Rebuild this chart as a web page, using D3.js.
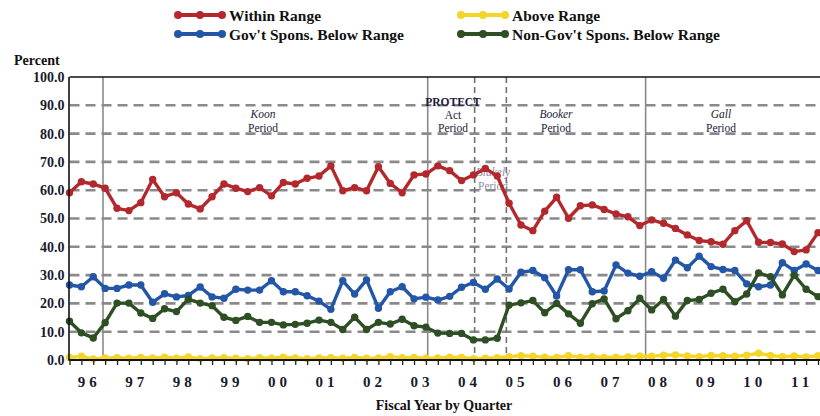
<!DOCTYPE html>
<html><head><meta charset="utf-8">
<script src="https://cdn.jsdelivr.net/npm/d3@7"></script>
<style>body{margin:0;background:#fff}svg{display:block}</style>
</head><body><svg id="c" width="820" height="416"></svg>
<script>
// ---------- DATA ----------
const years = ["96","97","98","99","00","01","02","03","04","05","06","07","08","09","10","11"];
const quarterNames = ["Q1","Q2","Q3","Q4"];
const categories = years.flatMap(y => quarterNames.map(q => "FY" + y + " " + q));

const withinRange = [59.1,63.0,62.2,60.7,53.6,52.8,55.6,63.8,57.7,59.1,
  55.1,53.4,57.7,62.2,60.7,59.5,60.9,58.0,62.7,62.2,
  64.2,65.0,68.6,59.8,60.9,59.8,68.3,62.4,59.1,65.4,
  65.7,68.6,66.9,63.4,65.4,67.7,65.0,55.4,47.7,45.7,
  52.6,57.5,50.1,54.5,54.8,53.2,51.6,50.6,47.5,49.5,
  48.3,46.5,44.2,42.2,41.8,40.9,45.7,49.2,41.6,41.5,
  41.0,38.3,38.9,45.0];
const aboveRange = [0.9,1.3,0.4,0.7,0.8,0.6,0.9,0.7,1.0,0.6,
  1.1,0.5,0.7,0.8,0.6,0.5,0.8,0.6,1.0,0.7,
  0.5,0.7,0.8,0.6,0.9,0.6,0.7,1.2,0.8,0.9,
  0.6,0.7,1.0,0.9,0.5,0.6,0.8,1.2,1.5,1.3,
  1.0,0.9,1.5,1.0,1.2,0.9,1.0,1.1,1.4,1.3,
  1.7,1.8,1.4,1.2,1.6,1.5,1.3,1.7,2.4,1.6,
  1.2,1.4,1.1,1.5];
const govBelow = [26.5,25.9,29.4,25.3,25.3,26.5,26.5,20.4,23.4,22.3,
  22.8,25.8,22.3,21.8,25.0,24.7,24.7,28.0,24.1,24.1,
  22.7,20.8,17.9,28.0,23.3,28.3,18.3,24.1,25.9,21.6,
  22.2,21.2,22.5,25.7,27.4,25.0,28.6,25.1,31.0,31.6,
  29.1,22.6,31.9,31.9,24.1,24.4,33.6,30.7,29.6,31.2,
  28.9,35.3,32.6,36.7,33.0,32.0,31.6,26.9,25.9,26.5,
  34.4,31.6,33.9,31.6];
const nonGovBelow = [13.7,9.6,7.8,13.2,20.1,20.1,16.6,14.7,18.1,17.1,
  21.5,20.1,19.2,15.1,14.0,15.4,13.3,13.3,12.4,12.6,
  13.0,14.1,13.3,10.8,15.1,10.8,13.3,12.7,14.4,12.1,
  11.6,9.5,9.4,9.4,7.1,7.1,7.7,19.4,20.2,21.0,
  16.7,20.0,16.3,13.0,19.9,21.6,14.6,17.4,21.8,17.7,
  21.4,15.5,21.0,21.4,23.6,25.0,20.6,23.3,30.8,29.4,
  23.0,30.0,25.0,22.4];
const yTicks = [0,10,20,30,40,50,60,70,80,90,100];
const seriesNames = ["Within Range","Above Range","Gov't Spons. Below Range","Non-Gov't Spons. Below Range"];
// period boundaries in quarter-index units
const periodNames = ["Koon","PROTECT","Blakely","Booker","Gall"];
const periodAt = [2.82, 30.15, 34.1, 36.77, 48.49];

// ---------- STYLE / LAYOUT ----------
const colors = {"Within Range":"#b3282d","Above Range":"#f4d52a","Gov't Spons. Below Range":"#2356a6","Non-Gov't Spons. Below Range":"#2e4f24"};
const periodDash = {"Koon":null,"PROTECT":null,"Blakely":"6,4","Booker":"6,4","Gall":null};
const serif = "'Liberation Serif','Times New Roman',serif";
const pL = 69.5, pR = 818, pT = 77, pB = 360;

const svg = d3.select("#c");
const x = d3.scaleLinear().domain([0, categories.length - 1]).range([pL, pR]);
const y = d3.scaleLinear().domain([0, 100]).range([pB, pT]);

// gridlines
svg.append("g").selectAll("line").data(yTicks.filter(t => t > 0 && t < 100)).join("line")
  .attr("x1", pL).attr("x2", 820).attr("y1", d => y(d)).attr("y2", d => y(d))
  .attr("stroke", "#8a8a8a").attr("stroke-width", 2.6).attr("stroke-dasharray", "10,6");

// period lines
svg.append("g").selectAll("line").data(periodNames).join("line")
  .attr("x1", (d,i) => x(periodAt[i])).attr("x2", (d,i) => x(periodAt[i]))
  .attr("y1", pT).attr("y2", pB)
  .attr("stroke", d => periodDash[d] ? "#707070" : "#8a8a8a")
  .attr("stroke-width", 1.6)
  .attr("stroke-dasharray", d => periodDash[d]);

// period labels
const periodLabels = [
  {x: 263, lines: [["Koon","italic","normal",114],["Period","normal","normal",128]], color:"#1c1c3c"},
  {x: 453, lines: [["PROTECT","normal","bold",101.5],["Act","normal","normal",115],["Period","normal","normal",128]], color:"#1c1c3c"},
  {x: 493, lines: [["Blakely","italic","normal",172],["Period","normal","normal",186]], color:"#8e8ea0"},
  {x: 556, lines: [["Booker","italic","normal",114],["Period","normal","normal",128]], color:"#1c1c3c"},
  {x: 721, lines: [["Gall","italic","normal",114],["Period","normal","normal",128]], color:"#1c1c3c"}
];
const pl = svg.append("g");
periodLabels.forEach(p => {
  p.lines.forEach(l => {
    pl.append("text").attr("x", p.x).attr("y", l[3]).attr("dy", "0.35em")
      .attr("text-anchor", "middle").attr("font-family", serif).attr("font-size", 11.5)
      .attr("font-style", l[1]).attr("font-weight", l[2]).attr("fill", p.color).text(l[0]);
  });
});

// series
const seriesData = [withinRange, aboveRange, govBelow, nonGovBelow];
const drawOrder = [0, 2, 1, 3];
const line = d3.line().x((d,i) => x(i)).y(d => y(d));
drawOrder.forEach(k => {
  const name = seriesNames[k], vals = seriesData[k];
  const g = svg.append("g");
  g.append("path").datum(vals).attr("d", line).attr("fill", "none")
    .attr("stroke", colors[name]).attr("stroke-width", 3.4).attr("stroke-linejoin", "round");
  g.selectAll("circle").data(vals).join("circle")
    .attr("cx", (d,i) => x(i)).attr("cy", d => y(d)).attr("r", 3.7).attr("fill", colors[name]);
});

// frame
svg.append("line").attr("x1", pL).attr("x2", 820).attr("y1", pT).attr("y2", pT).attr("stroke", "#111").attr("stroke-width", 1.6);
svg.append("line").attr("x1", pL - 0.5).attr("x2", pL - 0.5).attr("y1", pT).attr("y2", pB).attr("stroke", "#111").attr("stroke-width", 1.6);

// x axis
const xAxis = d3.axisBottom(x).tickValues(d3.range(categories.length)).tickSize(5).tickFormat("");
const xg = svg.append("g").attr("transform", `translate(0,${pB})`).call(xAxis);
xg.select(".domain").attr("stroke", "#111").attr("stroke-width", 2.2).attr("d", `M${pL-1},0H820`);
xg.selectAll(".tick line").attr("stroke", "#222").attr("stroke-width", 1.3);

svg.append("g").selectAll("text").data(years).join("text")
  .attr("x", (d,i) => x(i*4 + 1.5) + 2).attr("y", 382).attr("dy", "0.35em")
  .attr("text-anchor", "middle").attr("font-family", serif).attr("font-weight", "bold")
  .attr("font-size", 15).attr("letter-spacing", "4px").attr("fill", "#1a1a2e").text(d => d);

// y axis labels
const yAxis = d3.axisLeft(y).tickValues(yTicks).tickSize(0).tickPadding(5).tickFormat(d3.format(".1f"));
const yg = svg.append("g").attr("transform", `translate(${pL},0)`).call(yAxis);
yg.select(".domain").remove();
yg.selectAll("text").attr("font-family", serif).attr("font-weight", "bold").attr("font-size", 14).attr("fill", "#1a1a2e");

svg.append("text").attr("x", 14).attr("y", 60).attr("dy", "0.35em").attr("font-family", serif)
  .attr("font-weight", "bold").attr("font-size", 14).attr("fill", "#111").text("Percent");
svg.append("text").attr("x", 444).attr("y", 405).attr("dy", "0.35em").attr("text-anchor", "middle")
  .attr("font-family", serif).attr("font-weight", "bold").attr("font-size", 14).attr("fill", "#111")
  .text("Fiscal Year by Quarter");

// legend
const legendPos = [
  {name: seriesNames[0], x: 175, y: 15, w: 92},
  {name: seriesNames[1], x: 458, y: 15, w: 88},
  {name: seriesNames[2], x: 175, y: 34, w: 175},
  {name: seriesNames[3], x: 458, y: 34, w: 208}
];
const lg = svg.append("g");
legendPos.forEach(l => {
  const c = colors[l.name];
  lg.append("line").attr("x1", l.x).attr("x2", l.x + 50).attr("y1", l.y).attr("y2", l.y)
    .attr("stroke", c).attr("stroke-width", 4);
  [3, 25, 47].forEach(o => lg.append("circle").attr("cx", l.x + o).attr("cy", l.y).attr("r", 4).attr("fill", c));
  lg.append("text").attr("x", l.x + 54).attr("y", l.y + 1).attr("dy", "0.35em")
    .attr("font-family", serif).attr("font-weight", "bold").attr("font-size", 15).attr("fill", "#111")
    .attr("textLength", l.w).attr("lengthAdjust", "spacingAndGlyphs").text(l.name);
});
</script></body></html>
